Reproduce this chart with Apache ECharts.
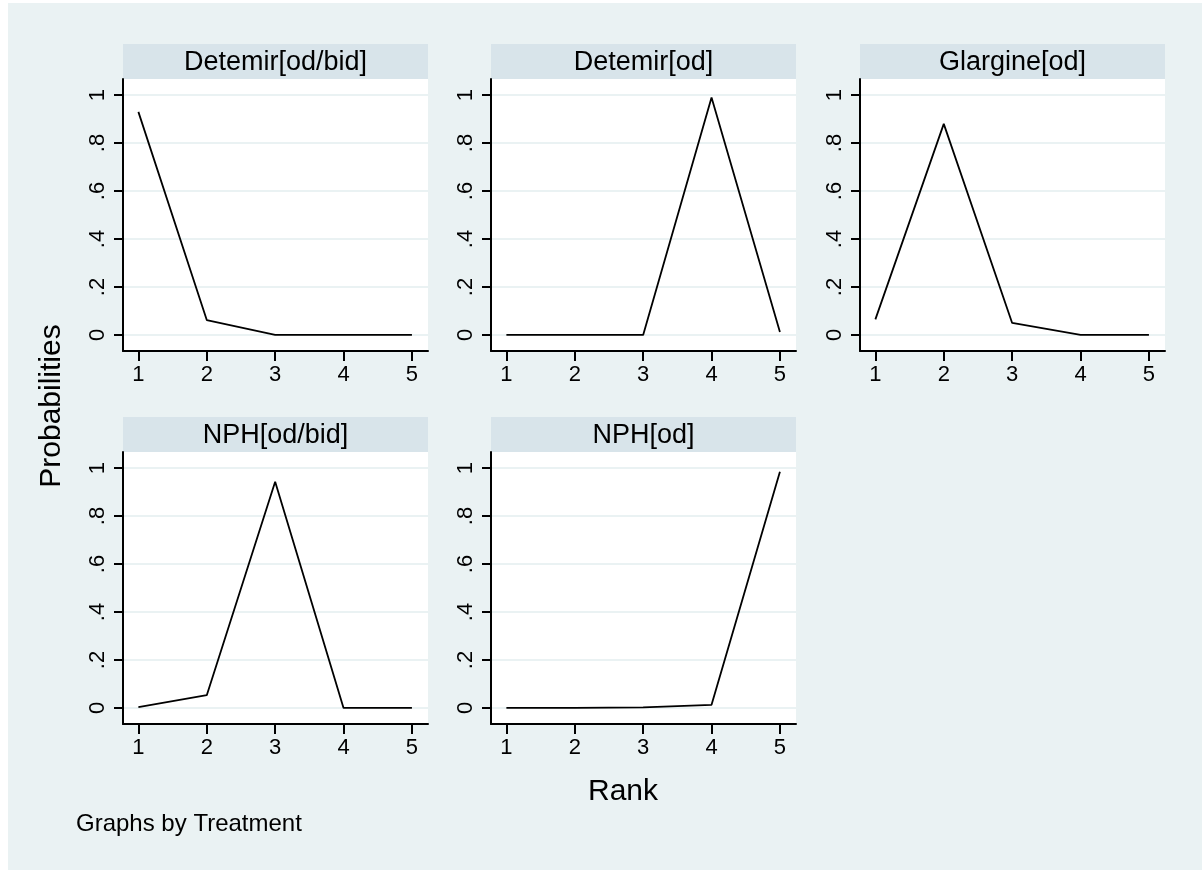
<!DOCTYPE html>
<html>
<head>
<meta charset="utf-8">
<script src="https://cdn.jsdelivr.net/npm/echarts@6/dist/echarts.min.js"></script>
<style>
  html, body { margin: 0; padding: 0; background: #fff; }
  #chart { position: absolute; left: 8px; top: 3px; width: 1194px; height: 867px; }
</style>
</head>
<body>
<div id="chart"></div>
<script>
// ====== data ======
const ranks = [1, 2, 3, 4, 5];
const treatments = ["Detemir[od/bid]", "Detemir[od]", "Glargine[od]", "NPH[od/bid]", "NPH[od]"];
const detemirOdBid = [0.93, 0.062, 0, 0, 0];
const detemirOd = [0, 0, 0, 0.99, 0.012];
const glargineOd = [0.065, 0.88, 0.05, 0, 0];
const nphOdBid = [0.003, 0.053, 0.943, 0, 0];
const nphOd = [0, 0, 0.002, 0.013, 0.985];
const yTicks = [0, 0.2, 0.4, 0.6, 0.8, 1];

const probs = [detemirOdBid, detemirOd, glargineOd, nphOdBid, nphOd];

// ====== layout ======
const colLeft = [115, 483, 852];
const rowTop = [76, 449];
const panelW = 305;
const panelH = 272;
const headH = 35;
const bg = "#eaf2f3";
const headBg = "#d8e4ea";
const font = "Arial, 'Liberation Sans', sans-serif";

const grids = [], xAxes = [], yAxes = [], series = [], graphics = [];

treatments.forEach((name, i) => {
  const left = colLeft[i % 3];
  const top = rowTop[Math.floor(i / 3)];
  grids.push({
    left, top, width: panelW, height: panelH,
    show: true, backgroundColor: "#fff", borderWidth: 0,
    outerBoundsMode: "none",
  });
  xAxes.push({
    type: "value", gridIndex: i, min: 0.775, max: 5.235,
    axisLine: { show: true, onZero: false, lineStyle: { color: "#000", width: 2 } },
    axisTick: { show: true, length: 10, lineStyle: { color: "#000", width: 2 }, customValues: ranks },
    axisLabel: { customValues: ranks, color: "#000", fontSize: 22, fontFamily: font, margin: 13 },
    splitLine: { show: false },
  });
  yAxes.push({
    type: "value", gridIndex: i, min: -0.067, max: 1.067,
    axisLine: { show: true, onZero: false, lineStyle: { color: "#000", width: 2 } },
    axisTick: { show: true, length: 9, lineStyle: { color: "#000", width: 2 }, customValues: yTicks },
    axisLabel: {
      customValues: yTicks, rotate: 90, color: "#000", fontSize: 22, fontFamily: font, margin: 14,
      formatter: (v) => (v === 0 ? "0" : v === 1 ? "1" : String(+v.toFixed(1)).replace(/^0/, "")),
    },
    splitLine: { show: true, lineStyle: { color: bg, width: 2 } },
  });
  series.push({
    type: "line", xAxisIndex: i, yAxisIndex: i, symbol: "none",
    lineStyle: { color: "#000", width: 1.8 },
    data: ranks.map((r, k) => [r, probs[i][k]]),
  });
  // panel header strip
  graphics.push({
    type: "rect", shape: { x: left, y: top - headH, width: panelW, height: headH },
    style: { fill: headBg }, silent: true,
  });
  graphics.push({
    type: "text", x: left + panelW / 2, y: top - headH / 2 + 1,
    style: { text: name, fill: "#000", font: `27px ${font}`, textAlign: "center", textVerticalAlign: "middle" },
    silent: true,
  });
});

graphics.push({
  type: "text", x: 44, y: 403, rotation: Math.PI / 2,
  style: { text: "Probabilities", fill: "#000", font: `30px ${font}`, textAlign: "center", textVerticalAlign: "middle" },
});
graphics.push({
  type: "text", x: 615, y: 789,
  style: { text: "Rank", fill: "#000", font: `30px ${font}`, textAlign: "center", textVerticalAlign: "middle" },
});
graphics.push({
  type: "text", x: 68, y: 821,
  style: { text: "Graphs by Treatment", fill: "#000", font: `24px ${font}`, textAlign: "left", textVerticalAlign: "middle" },
});

const chart = echarts.init(document.getElementById("chart"));
chart.setOption({
  backgroundColor: bg,
  animation: false,
  grid: grids,
  xAxis: xAxes,
  yAxis: yAxes,
  series,
  graphic: graphics,
});
</script>
</body>
</html>
